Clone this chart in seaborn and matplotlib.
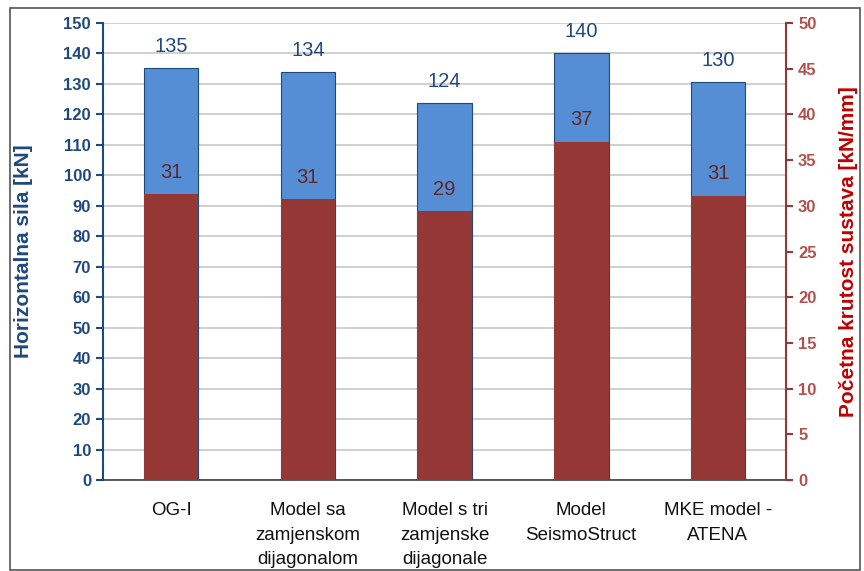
import matplotlib
matplotlib.use("Agg")
import matplotlib.pyplot as plt
import seaborn as sns
import pandas as pd
from matplotlib.patches import Rectangle

# data
modeli = ["OG-I", "Model sa\nzamjenskom\ndijagonalom", "Model s tri\nzamjenske\ndijagonale",
          "Model\nSeismoStruct", "MKE model -\nATENA"]
sila = [135.2, 133.9, 123.6, 140.0, 130.5]          # kN, left axis
krutost = [31.3, 30.7, 29.4, 37.0, 31.1]            # kN/mm, right axis
sila_lbl = [135, 134, 124, 140, 130]
krutost_lbl = [31, 31, 29, 37, 31]

BLUE = "#558ED5"
BLUE_DARK = "#1F497D"
RED = "#953735"
RED_TXT = "#632523"
RED_TICK = "#B4504D"

sns.set_style("white")
plt.rcParams['font.family'] = ['Liberation Sans', 'DejaVu Sans']

df = pd.DataFrame({"model": modeli, "sila": sila, "krutost": krutost})

fig = plt.figure(figsize=(8.64, 5.71), dpi=100)
ax = fig.add_axes([0.119, 0.159, 0.791, 0.801])
ax2 = ax.twinx()

sns.barplot(data=df, x="model", y="sila", color=BLUE, width=0.4, ax=ax,
            edgecolor=BLUE_DARK, linewidth=0.8, saturation=1)
sns.barplot(data=df, x="model", y="krutost", color=RED, width=0.4, ax=ax2,
            saturation=1, linewidth=0)

ax.set_ylim(0, 150)
ax2.set_ylim(0, 50)
ax.set_xlim(-0.5, 4.5)
ax.set_yticks(range(0, 151, 10))
ax2.set_yticks(range(0, 51, 5))
ax.yaxis.grid(True, color="#C8C8C8", linewidth=1.2)
ax.set_axisbelow(True)

for a in (ax, ax2):
    for s in a.spines.values():
        s.set_visible(False)
ax.spines["left"].set_visible(True)
ax.spines["left"].set_color(BLUE_DARK)
ax.spines["left"].set_linewidth(1.5)
ax.spines["bottom"].set_visible(True)
ax.spines["bottom"].set_color("#404040")
ax.spines["bottom"].set_linewidth(1.2)
ax2.spines["right"].set_visible(True)
ax2.spines["right"].set_color(RED)
ax2.spines["right"].set_linewidth(1.5)

ax.tick_params(axis="y", direction="out", length=5, width=1.5, color=BLUE_DARK,
               labelcolor=BLUE_DARK, labelsize=12, left=True)
ax2.tick_params(axis="y", direction="out", length=5, width=1.5, color=RED,
                labelcolor=RED_TICK, labelsize=12, right=True)
for lbl in ax.get_yticklabels():
    lbl.set_fontweight("bold")
for lbl in ax2.get_yticklabels():
    lbl.set_fontweight("bold")

# x ticks between categories
ax.set_xticks(range(len(modeli)))
ax.set_xticklabels(modeli, fontsize=13.5, color="#111111", linespacing=1.55)
ax.tick_params(axis="x", length=0, pad=16)
ax.set_xticks([i - 0.5 for i in range(len(modeli) + 1)], minor=True)
ax.tick_params(axis="x", which="minor", length=6, width=1.2, color="#404040", direction="out")
ax.set_xlabel("")

ax.set_ylabel("Horizontalna sila [kN]", color=BLUE_DARK, fontsize=15, fontweight="bold", labelpad=22)
ax2.set_ylabel("Početna krutost sustava [kN/mm]", color="#C00000", fontsize=15, fontweight="bold",
               labelpad=16)

for i, (v, t) in enumerate(zip(sila, sila_lbl)):
    ax.text(i, v + 4, str(t), ha="center", va="bottom", color=BLUE_DARK, fontsize=14.5)
for i, (v, t) in enumerate(zip(krutost, krutost_lbl)):
    ax2.text(i, v + 1.35, str(t), ha="center", va="bottom", color=RED_TXT, fontsize=14.5)

fig.patches.append(Rectangle((10 / 864, 0.002), 850 / 864, 1 - 8 / 571 - 0.002,
                             transform=fig.transFigure, fill=False, edgecolor="#555555",
                             linewidth=1.2))

fig.savefig("out.png", dpi=100)
